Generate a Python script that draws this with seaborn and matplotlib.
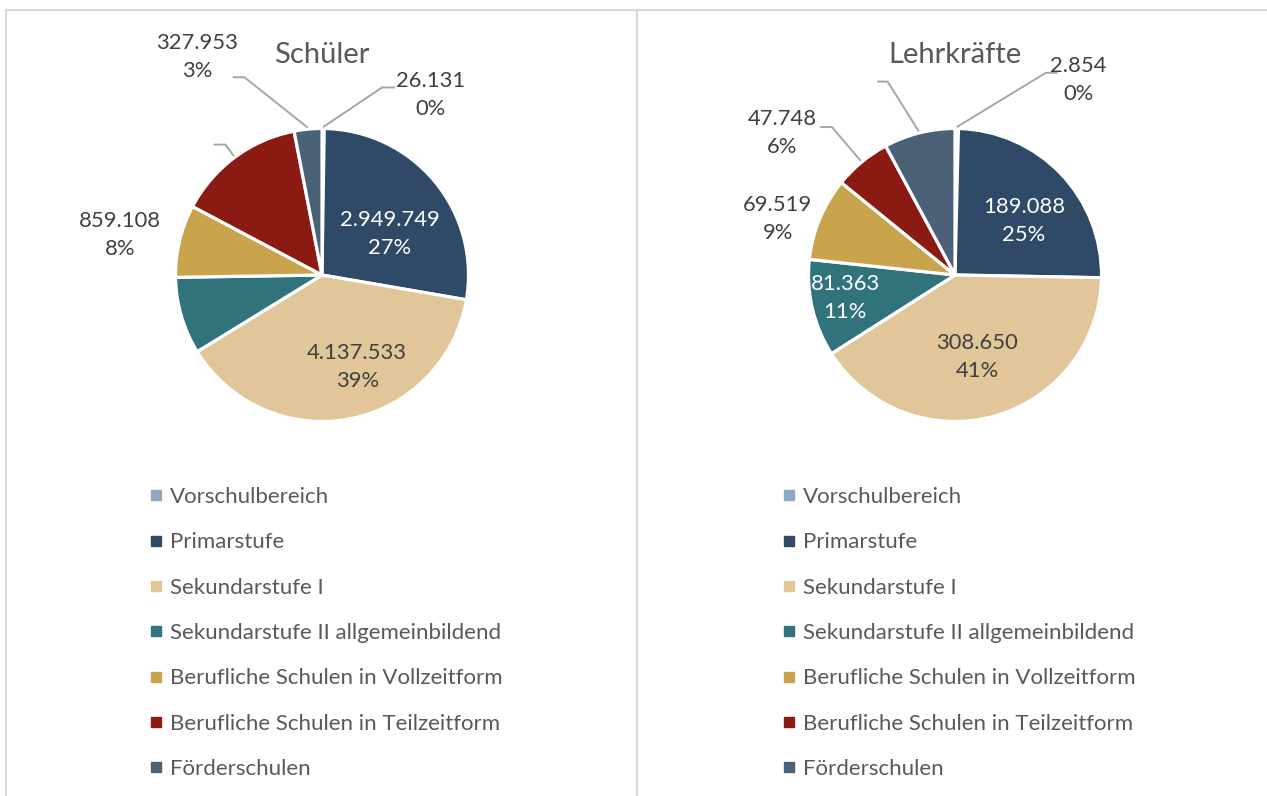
import matplotlib
matplotlib.use("Agg")
import matplotlib.pyplot as plt
import seaborn as sns
import numpy as np
from matplotlib.lines import Line2D

# ---------------- data ----------------
categories = ["Vorschulbereich", "Primarstufe", "Sekundarstufe I",
              "Sekundarstufe II allgemeinbildend",
              "Berufliche Schulen in Vollzeitform",
              "Berufliche Schulen in Teilzeitform", "Förderschulen"]
schueler = [26131, 2949749, 4137533, 915000, 859108, 1525000, 327953]
lehrkraefte = [2854, 189088, 308650, 81363, 69519, 47748, 59500]
titles = ["Schüler", "Lehrkräfte"]

# ---------------- style ----------------
sns.set_theme(style="white")
plt.rcParams["font.family"] = ["Lato", "DejaVu Sans"]
colors = sns.color_palette(["#8EA9C1", "#2E4A66", "#E0C699", "#31737A",
                            "#C9A44C", "#8A1A12", "#4B6178"])
TXT = "#595959"
LBL = "#404040"
LEAD = "#A6A6A6"

W, H = 1267, 796
fig = plt.figure(figsize=(W / 100, H / 100), dpi=100)
fig.patch.set_facecolor("white")

# layout (pixels) : pie centre, radius
R_PX = 146.5
LIM = 1.5
SIDE = 2 * LIM * R_PX
centres = [(322, 275), (955, 275)]

# label layout per pie: kind, text pos, leader elbow, leader end
layouts = [
    {0: ("out", (0.74, 1.23), (0.41, 1.28), (0.50, 1.28)),
     1: ("in_w", (0.46, 0.28)),
     2: ("in_d", (0.24, -0.63)),
     4: ("out", (-1.38, 0.27), None, None),
     5: ("lead", None, (-0.66, 0.89), (-0.74, 0.89)),
     6: ("out", (-0.85, 1.49), (-0.53, 1.35), (-0.61, 1.35))},
    {0: ("out", (0.84, 1.33), (0.62, 1.38), (0.70, 1.38)),
     1: ("in_w", (0.47, 0.37)),
     2: ("in_d", (0.15, -0.56)),
     3: ("in_w", (-0.75, -0.16)),
     4: ("out", (-1.21, 0.38), None, None),
     5: ("out", (-1.18, 0.97), (-0.84, 1.01), (-0.92, 1.01)),
     6: ("lead", None, (-0.46, 1.32), (-0.53, 1.32))},
]

LBL_FS = 15.8


def de_num(v):
    return f"{v:,}".replace(",", ".")


for (cx, cy), values, title, layout in zip(centres, [schueler, lehrkraefte], titles, layouts):
    ax = fig.add_axes([(cx - SIDE / 2) / W, (H - cy - SIDE / 2) / H, SIDE / W, SIDE / H])
    wedges, _ = ax.pie(values, colors=colors, startangle=90, counterclock=False,
                       radius=1.0,
                       wedgeprops=dict(edgecolor="white", linewidth=2.3))
    ax.set_xlim(-LIM, LIM)
    ax.set_ylim(-LIM, LIM)
    ax.set_aspect("equal")
    ax.axis("off")
    total = sum(values)
    ax.text(0, 1.505, title, ha="center", va="center", fontsize=21, color=TXT)
    for i, spec in layout.items():
        kind = spec[0]
        w = wedges[i]
        mid = np.deg2rad((w.theta1 + w.theta2) / 2)
        txt = f"{de_num(values[i])}\n{round(values[i] / total * 100)}%"
        if kind in ("in_w", "in_d"):
            ax.text(*spec[1], txt, ha="center", va="center", fontsize=LBL_FS,
                    linespacing=1.5, color="white" if kind == "in_w" else LBL)
            continue
        if kind == "out":
            ax.text(*spec[1], txt, ha="center", va="center", fontsize=LBL_FS,
                    linespacing=1.5, color=LBL)
        if spec[2] is not None:
            rim = (1.01 * np.cos(mid), 1.01 * np.sin(mid))
            ax.plot([rim[0], spec[2][0], spec[3][0]], [rim[1], spec[2][1], spec[3][1]],
                    color=LEAD, lw=1.4, clip_on=False, solid_capstyle="butt")

    # legend
    handles = [Line2D([], [], marker="s", linestyle="", markersize=6.5,
                      color=c) for c in colors]
    fig.legend(handles, categories, loc="upper left",
               bbox_to_anchor=((cx - 173) / W, (H - 487) / H),
               frameon=False, fontsize=16, labelcolor=TXT, handlelength=0.6,
               handletextpad=0.35, labelspacing=1.14, borderpad=0, borderaxespad=0)

# frame lines
fcol = "#D9D9D9"
fig.add_artist(Line2D([6 / W, 1], [1 - 10 / H, 1 - 10 / H], color=fcol, lw=1.5))
fig.add_artist(Line2D([6 / W, 6 / W], [0, 1 - 10 / H], color=fcol, lw=1.5))
fig.add_artist(Line2D([637 / W, 637 / W], [0, 1 - 10 / H], color=fcol, lw=1.5))

fig.savefig("out.png", dpi=100, facecolor="white")
